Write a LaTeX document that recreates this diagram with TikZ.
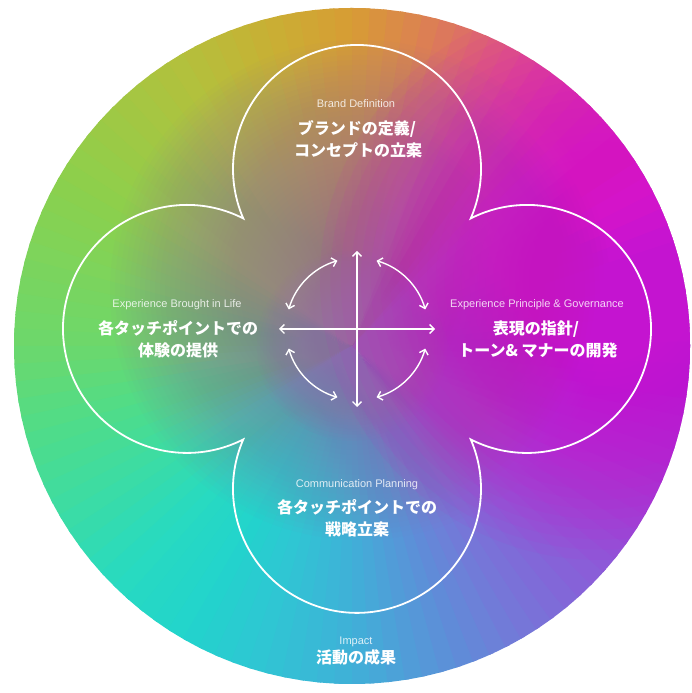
\documentclass[tikz,border=0pt]{standalone}
\usepackage{fontspec}
\usetikzlibrary{arrows.meta,calc}
\newfontfamily\jpfont{Noto Sans CJK JP}
\newfontfamily\enfont{Liberation Sans}
% conic colour stops every 15 degrees (counter-clockwise from east)
\definecolor{k0}{HTML}{A818D8}
\definecolor{k1}{HTML}{C014D4}
\definecolor{k2}{HTML}{D818C8}
\definecolor{k3}{HTML}{E030A8}
\definecolor{k4}{HTML}{E05880}
\definecolor{k5}{HTML}{DC7C58}
\definecolor{k6}{HTML}{D89C34}
\definecolor{k7}{HTML}{C8B034}
\definecolor{k8}{HTML}{B4C03C}
\definecolor{k9}{HTML}{A0C844}
\definecolor{k10}{HTML}{8CD04C}
\definecolor{k11}{HTML}{7CD45C}
\definecolor{k12}{HTML}{6CD86C}
\definecolor{k13}{HTML}{50DC88}
\definecolor{k14}{HTML}{3CDCA4}
\definecolor{k15}{HTML}{28DAC0}
\definecolor{k16}{HTML}{22D4CC}
\definecolor{k17}{HTML}{30C4D4}
\definecolor{k18}{HTML}{40B0D8}
\definecolor{k19}{HTML}{5894D8}
\definecolor{k20}{HTML}{7478D8}
\definecolor{k21}{HTML}{8860D8}
\definecolor{k22}{HTML}{9848D8}
\definecolor{k23}{HTML}{A030D8}
\definecolor{mutec}{HTML}{9472AA}
\definecolor{magc}{HTML}{D414D0}
\tikzset{
  enlab/.style={text=white, text opacity=0.82, font=\enfont\fontsize{11}{13}\selectfont, inner sep=0pt, anchor=base},
  jplab/.style={text=white, font=\jpfont\bfseries\fontsize{16}{20}\selectfont, inner sep=0pt, anchor=base},
  clover/.style={draw=white, line width=1.8pt, line join=miter},
  arr/.style={draw=white, line width=1.4pt,
    {Straight Barb[length=4.5pt,width=9pt]}-{Straight Barb[length=4.5pt,width=9pt]}}
}
\begin{document}
\begin{tikzpicture}[x=1pt,y=1pt]
\fill[white] (0,0) rectangle (692,693);
\useasboundingbox (0,0) rectangle (692,693);
\coordinate (O) at (352,347);
\coordinate (C) at (357,364);
\coordinate (M) at (360,403);
\coordinate (G) at (600,413);
% gradient disc
\begin{scope}
  \clip (O) circle[radius=338];
  \foreach \k in {0,...,23} {
    \pgfmathtruncatemacro\kn{mod(\k+1,24)}
    \foreach \j in {0,...,4} {
      \pgfmathtruncatemacro\p{90-20*\j}
      \pgfmathsetmacro\a{15*\k+3*\j}
      \pgfmathsetmacro\b{\a+3.8}
      \fill[k\k!\p!k\kn] (O) -- ++(\a:360) arc[start angle=\a,end angle=\b,radius=360] -- cycle;
    }
  }
  % broad desaturated centre
  \foreach \i in {1,...,50} {
    \pgfmathsetmacro\rr{250*\i/50}
    \fill[mutec, fill opacity=0.03] (M) circle[radius=\rr];
  }
  % small mute to smooth the centre
  \foreach \i in {1,...,30} {
    \pgfmathsetmacro\rr{95*\i/30}
    \fill[mutec, fill opacity=0.06] (O) circle[radius=\rr];
  }
  % magenta blob on the right
  \foreach \i in {1,...,40} {
    \pgfmathsetmacro\rr{280*(\i/40)^1.5}
    \fill[magc, fill opacity=0.06] (G) circle[radius=\rr];
  }
\end{scope}
% clover outline
\draw[clover] (C) ++(0,160) ++(-23.5:124)
  arc[start angle=-23.5, end angle=203.5, radius=124]
  arc[start angle=63, end angle=297, radius=124]
  arc[start angle=156.5, end angle=383.5, radius=124]
  arc[start angle=243, end angle=477, radius=124] -- cycle;
% cross arrows
\coordinate (cN) at ($(C)+(0,78)$);
\coordinate (cS) at ($(C)+(0,-78)$);
\coordinate (cW) at ($(C)+(-78,0)$);
\coordinate (cE) at ($(C)+(78,0)$);
\draw[arr] (cS) -- (cN);
\draw[arr] (cW) -- (cE);
\foreach \q in {0,1,2,3} {
  \pgfmathsetmacro\sa{90*\q+16}
  \pgfmathsetmacro\ea{90*\q+74}
  \coordinate (q\q) at ($(C)+(\sa:71)$);
  \draw[arr] (q\q) arc[start angle=\sa, end angle=\ea, radius=71];
}
% labels
\node[enlab] (bdEn) at (356,585) {Brand Definition};
\node[jplab] (bdJ1) at (357,558) {ブランドの定義/};
\node[jplab] (bdJ2) at (358,536) {コンセプトの立案};
\node[enlab] (ebEn) at (177,385) {Experience Brought in Life};
\node[jplab] (ebJ1) at (178,358) {各タッチポイントでの};
\node[jplab] (ebJ2) at (178,336) {体験の提供};
\node[enlab] (epEn) at (537,385) {Experience Principle \& Governance};
\node[jplab] (epJ1) at (536,358) {表現の指針/};
\node[jplab] (epJ2) at (538,336) {トーン\& マナーの開発};
\node[enlab] (cpEn) at (357,205) {Communication Planning};
\node[jplab] (cpJ1) at (357,179) {各タッチポイントでの};
\node[jplab] (cpJ2) at (357,157) {戦略立案};
\node[enlab] (imEn) at (356,48) {Impact};
\node[jplab] (imJ) at (356,29) {活動の成果};
\end{tikzpicture}
\end{document}
